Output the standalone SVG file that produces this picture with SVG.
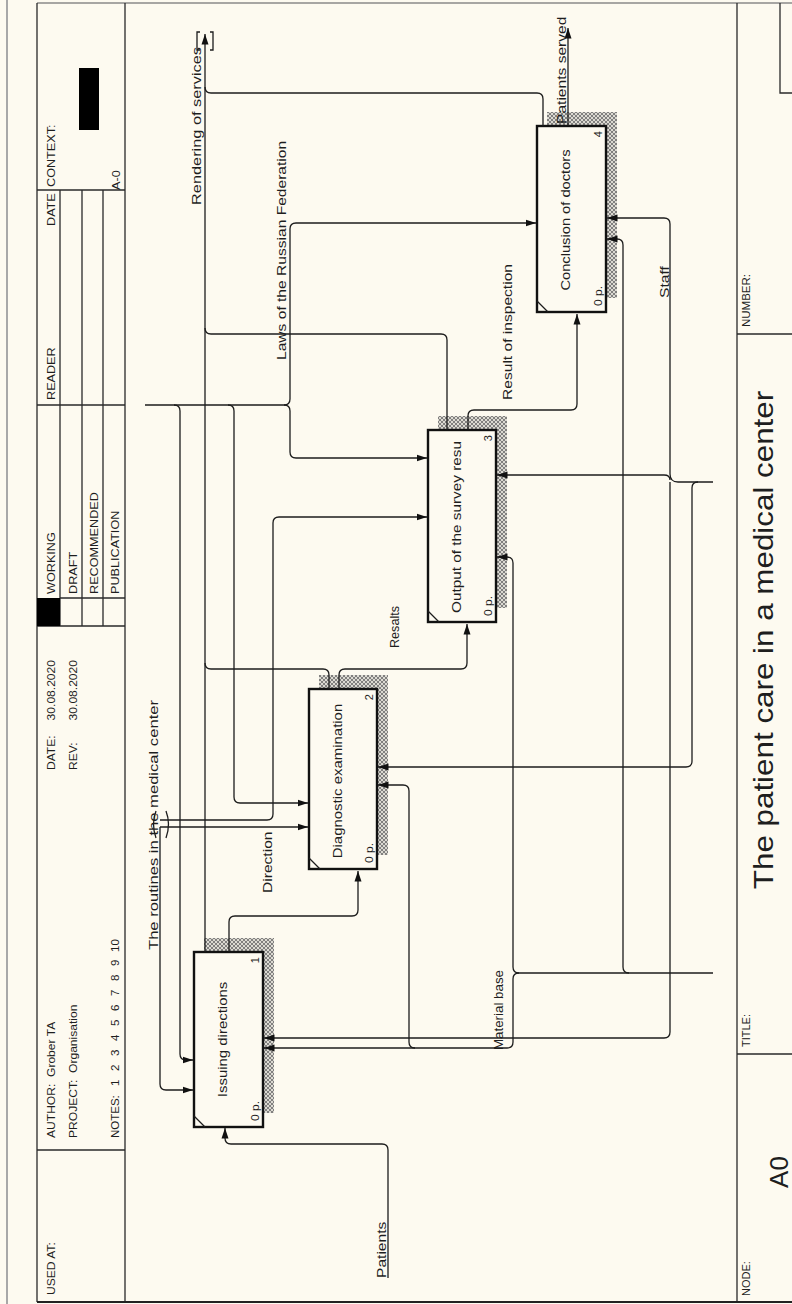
<svg xmlns="http://www.w3.org/2000/svg" width="792" height="1304" viewBox="0 0 792 1304">
<defs>
<style>
.ln{fill:none;stroke:#1c1c1c;stroke-width:1.3}
.ar{marker-end:url(#ah)}
.fr{fill:none;stroke:#2a2a2a;stroke-width:1.3}
.box{fill:#fdfaf1;stroke:#111;stroke-width:2.4}
.sh{fill:url(#hatch)}
text{font-family:"Liberation Sans",Arial,sans-serif;fill:#1e1e1e}
.lb{font-size:13px}
.hd{font-size:11.5px}
.sm{font-size:11px}
.tb{font-size:10px}
</style>
<marker id="ah" markerWidth="11" markerHeight="8" refX="10.5" refY="4" orient="auto" markerUnits="userSpaceOnUse"><path d="M0,0.5 L10.5,4 L0,7.5 z" fill="#111"/></marker>
<pattern id="hatch" width="4" height="4" patternUnits="userSpaceOnUse"><rect width="4" height="4" fill="#dcdad2"/><path d="M0,0 L4,4 M4,0 L0,4" stroke="#6a6a6a" stroke-width="0.8"/></pattern>
</defs>
<rect width="792" height="1304" fill="#fdfaf0"/>
<g id="frame">
<path d="M7,0 V1304" stroke="#a8a8a8" stroke-width="2" fill="none"/>
<path d="M37,3 H792" stroke="#8a8a8a" stroke-width="1.5" fill="none"/>
<path class="fr" d="M37,3 V1302 M125,3 V1302 M737,3 V1302"/>
<path d="M37,1302 H792" stroke="#222" stroke-width="2.2" fill="none"/>
<path class="fr" d="M37,190 H125 M37,405 H125 M60,598 H125 M37,626 H125 M37,1150 H125 M60,190 V626 M82,190 V626 M103,190 V626"/>
<rect x="37" y="598" width="23" height="28" fill="#000"/>
<rect x="79" y="68" width="20" height="62" fill="#000"/>
<path class="fr" d="M737,1054 H792 M737,334 H792 M780,3 V93 H792"/>
<text class="hd" transform="translate(55,187) rotate(-90) scale(1.1,1)">CONTEXT:</text>
<text class="hd" transform="translate(120,190) rotate(-90) scale(1.1,1)">A-0</text>
<text class="hd" transform="translate(55,226) rotate(-90) scale(1.1,1)">DATE</text>
<text class="hd" transform="translate(55,400) rotate(-90) scale(1.1,1)">READER</text>
<text class="hd" transform="translate(55,594) rotate(-90) scale(1.1,1)">WORKING</text>
<text class="hd" transform="translate(77,594) rotate(-90) scale(1.1,1)">DRAFT</text>
<text class="hd" transform="translate(98,594) rotate(-90) scale(1.1,1)">RECOMMENDED</text>
<text class="hd" transform="translate(119,594) rotate(-90) scale(1.1,1)">PUBLICATION</text>
<text class="hd" transform="translate(55,770) rotate(-90) scale(1.05,1)">DATE:</text>
<text class="hd" transform="translate(55,660) rotate(-90) scale(1.05,1)" text-anchor="end">30.08.2020</text>
<text class="hd" transform="translate(77,770) rotate(-90) scale(1.05,1)">REV:</text>
<text class="hd" transform="translate(77,660) rotate(-90) scale(1.05,1)" text-anchor="end">30.08.2020</text>
<text class="hd" transform="translate(55,1138) rotate(-90) scale(1.05,1)" xml:space="preserve">AUTHOR:  Grober TA</text>
<text class="hd" transform="translate(77,1138) rotate(-90) scale(1.05,1)" xml:space="preserve">PROJECT:  Organisation</text>
<text class="hd" transform="translate(119,1138) rotate(-90)"><tspan x="0">NOTES:</tspan><tspan x="52">1</tspan><tspan x="67">2</tspan><tspan x="82">3</tspan><tspan x="97">4</tspan><tspan x="112">5</tspan><tspan x="127">6</tspan><tspan x="142">7</tspan><tspan x="157">8</tspan><tspan x="172">9</tspan><tspan x="186">10</tspan></text>
<text class="hd" transform="translate(55,1295) rotate(-90) scale(1.05,1)">USED AT:</text>
<text class="tb" transform="translate(750,1296) rotate(-90) scale(1.1,1)">NODE:</text>
<text transform="translate(788,1172) rotate(-90)" text-anchor="middle" style="font-size:26px">A0</text>
<text class="tb" transform="translate(750,1047) rotate(-90) scale(1.1,1)">TITLE:</text>
<text transform="translate(773,640) rotate(-90) scale(1.12,1)" text-anchor="middle" style="font-size:28px">The patient care in a medical center</text>
<text class="tb" transform="translate(750,327) rotate(-90) scale(1.15,1)">NUMBER:</text>
</g>
<g id="box1">
<polygon class="sh" points="204,938 274,938 274,1113 263,1113 263,952 204,952"/>
<rect class="box" x="194" y="952" width="69" height="175"/>
<path class="ln" d="M194,1116 L205,1127"/>
<text class="lb" transform="translate(227,1039.5) rotate(-90) scale(1.15,1)" text-anchor="middle">Issuing directions</text>
<text class="sm" transform="translate(259,1121) rotate(-90) scale(1.1,1)">0 p.</text>
<text class="sm" transform="translate(259,957) rotate(-90)" text-anchor="end">1</text>
</g>
<g id="box2">
<polygon class="sh" points="319,675 388,675 388,855 377,855 377,689 319,689"/>
<rect class="box" x="309" y="689" width="68" height="180"/>
<path class="ln" d="M309,858 L320,869"/>
<text class="lb" transform="translate(342,781) rotate(-90) scale(1.15,1)" text-anchor="middle">Diagnostic examination</text>
<text class="sm" transform="translate(373,863) rotate(-90) scale(1.1,1)">0 p.</text>
<text class="sm" transform="translate(373,694) rotate(-90)" text-anchor="end">2</text>
</g>
<g id="box3">
<polygon class="sh" points="438,416 507,416 507,608 496,608 496,430 438,430"/>
<rect class="box" x="428" y="430" width="68" height="192"/>
<path class="ln" d="M428,611 L439,622"/>
<text class="lb" transform="translate(461,527) rotate(-90) scale(1.18,1)" text-anchor="middle">Output of the survey resu</text>
<text class="sm" transform="translate(492,616) rotate(-90) scale(1.1,1)">0 p.</text>
<text class="sm" transform="translate(492,435) rotate(-90)" text-anchor="end">3</text>
</g>
<g id="box4">
<polygon class="sh" points="547,112 617,112 617,298 606,298 606,126 547,126"/>
<rect class="box" x="537" y="126" width="69" height="186"/>
<path class="ln" d="M537,301 L548,312"/>
<text class="lb" transform="translate(570,220) rotate(-90) scale(1.13,1)" text-anchor="middle">Conclusion of doctors</text>
<text class="sm" transform="translate(602,306) rotate(-90) scale(1.1,1)">0 p.</text>
<text class="sm" transform="translate(602,131) rotate(-90)" text-anchor="end">4</text>
</g>
<g id="connectors">
<path class="ln ar" d="M388,1278 V1150 Q388,1144 382,1144 H231 Q225,1144 225,1138 V1128"/>
<path class="ln ar" d="M229,952 V922 Q229,916 235,916 H352 Q358,916 358,910 V871"/>
<path class="ln ar" d="M205,952 V34"/>
<path class="ln" d="M200,32 H197 V50 H200 M210,32 H213 V50 H210"/>
<path class="ln" d="M329,689 V675 Q329,669 323,669 H211 Q205,669 205,663"/>
<path class="ln ar" d="M339,689 V675 Q339,669 345,669 H461 Q467,669 467,663 V624"/>
<path class="ln" d="M447,430 V340 Q447,334 441,334 H211 Q205,334 205,328"/>
<path class="ln ar" d="M468,430 V416 Q468,410 474,410 H571 Q577,410 577,404 V314"/>
<path class="ln" d="M543,126 V99 Q543,93 537,93 H211 Q205,93 205,87"/>
<path class="ln ar" d="M568,126 V28"/>
<path class="ln ar" d="M145,405 H284 Q290,405 290,399 V229 Q290,223 296,223 H536"/>
<path class="ln ar" d="M284,405 Q290,405 290,411 V452 Q290,458 296,458 H427"/>
<path class="ln ar" d="M174,405 Q180,405 180,411 V1054 Q180,1060 186,1060 H193"/>
<path class="ln ar" d="M228,405 Q234,405 234,411 V797 Q234,803 240,803 H308"/>
<path class="ln ar" d="M160,827 H308"/>
<path class="ln ar" d="M160,820 H267 Q273,820 273,814 V523 Q273,517 279,517 H427"/>
<path class="ln ar" d="M160,827 V1084 Q160,1090 166,1090 H193"/>
<path class="ln" d="M156,811 Q151,824 156,838 M166,811 Q171,824 166,838"/>
<path class="ln ar" d="M713,482 H678 Q670,482 670,474 V224 Q670,218 664,218 H607"/>
<path class="ln ar" d="M670,482 V1032 Q670,1038 664,1038 H264"/>
<path class="ln ar" d="M670,480 Q670,475 664,475 H497"/>
<path class="ln ar" d="M698,482 Q692,482 692,488 V761 Q692,767 686,767 H378"/>
<path class="ln ar" d="M713,973 H519 Q513,973 513,979 V1042 Q513,1048 507,1048 H264"/>
<path class="ln ar" d="M519,973 Q513,973 513,967 V563 Q513,557 507,557 H497"/>
<path class="ln ar" d="M629,973 Q623,973 623,967 V245 Q623,239 617,239 H607"/>
<path class="ln ar" d="M415,1048 Q409,1048 409,1042 V791 Q409,785 403,785 H378"/>
</g>
<g id="labels">
<text class="lb" transform="translate(386,1278) rotate(-90) scale(1.2,1)">Patients</text>
<text class="lb" transform="translate(272,893) rotate(-90) scale(1.2,1)">Direction</text>
<text class="lb" transform="translate(399,648) rotate(-90)" textLength="42" lengthAdjust="spacingAndGlyphs">Resalts</text>
<text class="lb" transform="translate(512,400) rotate(-90) scale(1.2,1)">Result of inspection</text>
<text class="lb" transform="translate(566,124) rotate(-90) scale(1.2,1)">Patients served</text>
<text class="lb" transform="translate(201,205) rotate(-90)" textLength="158" lengthAdjust="spacingAndGlyphs">Rendering of services</text>
<text class="lb" transform="translate(286,360) rotate(-90) scale(1.2,1)">Laws of the Russian Federation</text>
<text class="lb" transform="translate(158,950) rotate(-90)" textLength="250" lengthAdjust="spacingAndGlyphs">The routines in the medical center</text>
<text class="lb" transform="translate(503,1050) rotate(-90)" textLength="80" lengthAdjust="spacingAndGlyphs">Material base</text>
<text class="lb" transform="translate(669,298) rotate(-90) scale(1.2,1)">Staff</text>
</g>
</svg>
